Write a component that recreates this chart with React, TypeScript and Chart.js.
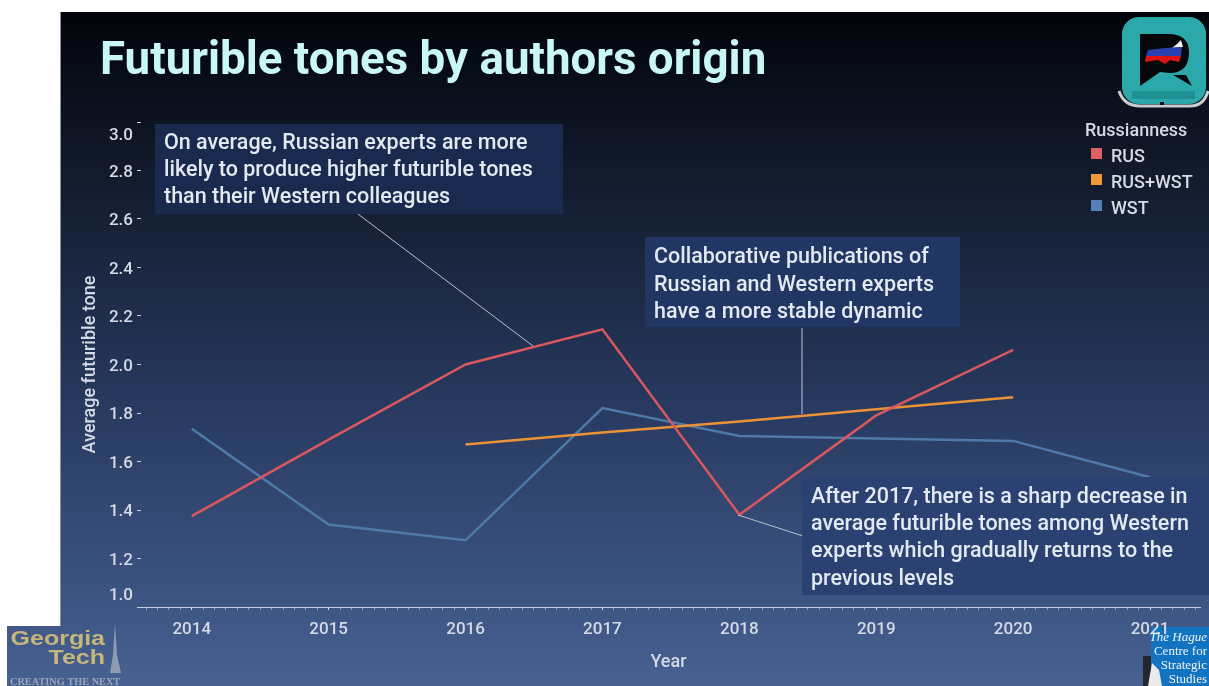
import React, { useEffect, useRef } from "react";
import { Chart, registerables } from "chart.js";

Chart.register(...registerables);

const years = [2014, 2015, 2016, 2017, 2018, 2019, 2020, 2021];
const rus = [1.375, 1.69, 2.0, 2.145, 1.38, 1.79, 2.06, null];
const rusWst = [null, null, 1.67, 1.72, 1.765, 1.815, 1.865, null];
const wst = [1.735, 1.34, 1.275, 1.82, 1.705, 1.695, 1.685, 1.535];

const seriesNames = ["RUS", "RUS+WST", "WST"];
const seriesColors = ["#d9575e", "#ec9236", "#4f79a8"];
const keyColors = ["#e05f66", "#f2983a", "#5480b5"];

const titleText = "Futurible tones by authors origin";
const legendTitle = "Russianness";
const noteOne = [
  "On average, Russian experts are more",
  "likely to produce higher futurible tones",
  "than their Western colleagues",
];
const noteTwo = [
  "Collaborative publications of",
  "Russian and Western experts",
  "have a more stable dynamic",
];
const noteThree = [
  "After 2017, there is a sharp decrease in",
  "average futurible tones among Western",
  "experts which gradually returns to the",
  "previous levels",
];

const FONT = "Roboto, 'Noto Sans', sans-serif";
const MONTH = 1 / 12;

function isWholeYear(v: number) {
  return Math.abs(v - Math.round(v)) < 1e-6;
}

function note(
  ctx: CanvasRenderingContext2D,
  box: [number, number, number, number],
  fill: string,
  lines: string[],
  textX: number,
  firstY: number,
  step: number
) {
  ctx.fillStyle = fill;
  ctx.fillRect(box[0], box[1], box[2], box[3]);
  ctx.fillStyle = "#e3e9f0";
  ctx.font = `500 21.5px ${FONT}`;
  ctx.textAlign = "left";
  ctx.textBaseline = "middle";
  lines.forEach((l, i) => ctx.fillText(l, textX, firstY + i * step));
}

function leader(ctx: CanvasRenderingContext2D, x1: number, y1: number, x2: number, y2: number) {
  ctx.strokeStyle = "#b9c3d2";
  ctx.lineWidth = 1;
  ctx.beginPath();
  ctx.moveTo(x1, y1);
  ctx.lineTo(x2, y2);
  ctx.stroke();
}

function drawAppIcon(ctx: CanvasRenderingContext2D) {
  // stand under the tile
  ctx.strokeStyle = "#c9cdd0";
  ctx.lineWidth = 3;
  ctx.beginPath();
  ctx.moveTo(1119, 91);
  ctx.quadraticCurveTo(1124, 106, 1140, 106);
  ctx.lineTo(1190, 106);
  ctx.quadraticCurveTo(1204, 106, 1208, 91);
  ctx.stroke();
  // tile
  ctx.fillStyle = "#2ba9aa";
  ctx.beginPath();
  ctx.roundRect(1122, 17, 84, 87, 17);
  ctx.fill();
  ctx.fillStyle = "#1f9092";
  ctx.fillRect(1132, 91, 63, 8);
  ctx.fillStyle = "#111";
  ctx.fillRect(1160, 102, 4, 3);
  // speech bubble letter
  ctx.fillStyle = "#06080c";
  ctx.beginPath();
  ctx.moveTo(1140, 34);
  ctx.lineTo(1168, 34);
  ctx.quadraticCurveTo(1190, 34, 1189, 54);
  ctx.quadraticCurveTo(1188, 73, 1170, 73);
  ctx.lineTo(1160, 72);
  ctx.lineTo(1140, 86);
  ctx.closePath();
  ctx.fill();
  ctx.beginPath();
  ctx.moveTo(1173, 75);
  ctx.lineTo(1186, 75);
  ctx.lineTo(1192, 86);
  ctx.closePath();
  ctx.fill();
  // flag-coloured map
  ctx.fillStyle = "#f2f2f4";
  ctx.beginPath();
  ctx.moveTo(1172, 48);
  ctx.lineTo(1177, 44);
  ctx.lineTo(1181, 40);
  ctx.lineTo(1183, 47);
  ctx.closePath();
  ctx.fill();
  ctx.fillStyle = "#2a3fb0";
  ctx.beginPath();
  ctx.moveTo(1148, 50);
  ctx.lineTo(1165, 48);
  ctx.lineTo(1182, 47);
  ctx.lineTo(1181, 56);
  ctx.lineTo(1146, 56);
  ctx.closePath();
  ctx.fill();
  ctx.fillStyle = "#e01414";
  ctx.beginPath();
  ctx.moveTo(1146, 56);
  ctx.lineTo(1181, 56);
  ctx.lineTo(1179, 62);
  ctx.lineTo(1170, 60);
  ctx.lineTo(1165, 64);
  ctx.lineTo(1158, 60);
  ctx.lineTo(1145, 62);
  ctx.closePath();
  ctx.fill();
}

function wideText(ctx: CanvasRenderingContext2D, text: string, rightX: number, y: number) {
  ctx.save();
  ctx.translate(rightX, y);
  ctx.scale(1.25, 1);
  ctx.fillText(text, 0, 0);
  ctx.restore();
}

function drawGeorgiaTech(ctx: CanvasRenderingContext2D) {
  ctx.fillStyle = "#c6b67a";
  ctx.textBaseline = "alphabetic";
  ctx.textAlign = "right";
  ctx.font = "700 20px 'Liberation Sans', sans-serif";
  wideText(ctx, "Georgia", 105, 645);
  wideText(ctx, "Tech", 105, 664);
  // tower
  ctx.fillStyle = "#8d9cb0";
  ctx.beginPath();
  ctx.moveTo(115, 623);
  ctx.lineTo(117, 655);
  ctx.lineTo(121, 673);
  ctx.lineTo(110, 673);
  ctx.lineTo(113, 655);
  ctx.closePath();
  ctx.fill();
  ctx.fillStyle = "#9aa6b5";
  ctx.textAlign = "left";
  ctx.font = "700 10.3px 'Liberation Serif', serif";
  ctx.fillText("CREATING THE NEXT", 10, 685);
}

function drawHague(ctx: CanvasRenderingContext2D) {
  // chess pieces
  ctx.fillStyle = "#23262d";
  ctx.fillRect(1143, 656, 8, 30);
  ctx.fillStyle = "#e9eaec";
  ctx.beginPath();
  ctx.moveTo(1152, 663);
  ctx.lineTo(1159, 670);
  ctx.lineTo(1162, 686);
  ctx.lineTo(1148, 686);
  ctx.closePath();
  ctx.fill();
  ctx.fillStyle = "#f0f4fa";
  ctx.textBaseline = "middle";
  ctx.textAlign = "right";
  ctx.font = "italic 13px 'Liberation Serif', serif";
  ctx.fillText("The Hague", 1207, 638);
  ctx.font = "13px 'Liberation Serif', serif";
  ctx.fillText("Centre for", 1207, 652);
  ctx.fillText("Strategic", 1207, 666);
  ctx.fillText("Studies", 1207, 680);
}

const backdrop = {
  id: "backdrop",
  beforeDraw(chart: any) {
    const { ctx, width, height } = chart;
    ctx.save();
    ctx.fillStyle = "#ffffff";
    ctx.fillRect(0, 0, width, height);
    const g = ctx.createLinearGradient(0, 12, 0, 686);
    g.addColorStop(0, "#02040a");
    g.addColorStop(0.27, "#141d30");
    g.addColorStop(0.58, "#27395f");
    g.addColorStop(1, "#476192");
    ctx.fillStyle = g;
    ctx.fillRect(60, 12, width - 60, height - 12);
    ctx.fillRect(7, 626, 60, 60);
    ctx.fillStyle = "#8b919a";
    ctx.fillRect(60, 12, 1, 614);
    // blue corner panel sits behind the last year label
    ctx.fillStyle = "#1273c0";
    ctx.fillRect(1151, 627, 58, 59);
    ctx.restore();
  },
  afterDatasetsDraw(chart: any) {
    const { ctx } = chart;
    ctx.save();
    leader(ctx, 358, 214, 533, 346);
    leader(ctx, 802, 328, 802, 414);
    leader(ctx, 738, 515, 803, 536);
    note(ctx, [155, 124, 408, 90], "#1a2a4e", noteOne, 164, 144, 27);
    note(ctx, [645, 237, 315, 90], "#213662", noteTwo, 654, 258, 27.5);
    note(ctx, [802, 477, 407, 118], "#2a4172", noteThree, 811, 497.5, 27.3);
    ctx.restore();
  },
  afterDraw(chart: any) {
    const { ctx } = chart;
    ctx.save();
    // heading
    ctx.fillStyle = "#c9f7f6";
    ctx.font = `700 45.7px ${FONT}`;
    ctx.textAlign = "left";
    ctx.textBaseline = "alphabetic";
    ctx.fillText(titleText, 100, 74);
    // colour key
    ctx.textBaseline = "middle";
    ctx.fillStyle = "#d5dbe5";
    ctx.font = `500 18px ${FONT}`;
    ctx.fillText(legendTitle, 1085, 131);
    chart.data.datasets.forEach((d: any, i: number) => {
      const y = 155 + i * 26;
      ctx.fillStyle = keyColors[i];
      ctx.fillRect(1091, y - 7, 11, 11);
      ctx.fillStyle = "#d5dbe5";
      ctx.fillText(d.label, 1111, y + 2);
    });
    drawAppIcon(ctx);
    drawGeorgiaTech(ctx);
    drawHague(ctx);
    ctx.restore();
  },
};

function points(values: (number | null)[]) {
  return years.map((x, i) => ({ x, y: values[i] }));
}

// The end labels sit inside the axis range; a blank companion line moves a label
// away from its tick by half of the line height.
function labelLineHeight(value: number) {
  if (Math.abs(value - 3) < 1e-6) return "28px";
  if (Math.abs(value - 1) < 1e-6) return "22px";
  return "4px";
}

export default function App() {
  const ref = useRef<HTMLCanvasElement>(null);

  useEffect(() => {
    const chart = new Chart(ref.current!, {
      type: "line",
      data: {
        datasets: [rus, rusWst, wst].map((values, i) => ({
          label: seriesNames[i],
          data: points(values) as any,
          borderColor: seriesColors[i],
          backgroundColor: seriesColors[i],
          borderWidth: 2.5,
          pointRadius: 0,
          tension: 0,
        })),
      },
      plugins: [backdrop],
      options: {
        animation: false,
        responsive: false,
        layout: { padding: { left: 80, right: 9, top: 122, bottom: 13 } },
        plugins: { legend: { display: false }, tooltip: { enabled: false } },
        scales: {
          x: {
            type: "linear",
            min: 2013.6,
            max: 2021.365,
            afterBuildTicks(scale: any) {
              const ticks = [];
              for (let k = -4; k <= 88; k++) ticks.push({ value: 2014 + k * MONTH });
              scale.ticks = ticks;
            },
            afterFit(scale: any) {
              scale.height = 66;
            },
            border: { color: "#c6d0e0", width: 1 },
            grid: {
              drawOnChartArea: false,
              tickLength: 3,
              tickColor: (c: any) =>
                isWholeYear(c.tick?.value ?? 0) ? "#d5dce8" : "rgba(213,220,232,0.55)",
            },
            ticks: {
              autoSkip: false,
              maxRotation: 0,
              padding: 10,
              color: "#d5dbe5",
              font: { family: FONT, size: 17, weight: "500" },
              callback: (v: any) => (isWholeYear(Number(v)) ? String(Math.round(Number(v))) : ""),
            },
            title: {
              display: true,
              text: "Year",
              color: "#d5dbe5",
              font: { family: FONT, size: 18, weight: "500" },
              padding: { top: 4, bottom: 0 },
            },
          },
          y: {
            min: 1,
            max: 3,
            afterFit(scale: any) {
              scale.width = 57;
            },
            border: { display: false },
            grid: {
              drawOnChartArea: false,
              tickLength: -4,
              tickColor: "#c6d0e0",
            },
            ticks: {
              stepSize: 0.2,
              autoSkip: false,
              padding: 8,
              color: "#d5dbe5",
              font: (c: any) => ({
                family: FONT,
                size: 17,
                weight: "500",
                lineHeight: labelLineHeight(c.tick?.value ?? 0),
              }),
              callback: (v: any) => {
                const text = Number(v).toFixed(1);
                return Math.abs(Number(v) - 1) < 1e-6 ? [text, ""] : ["", text];
              },
            },
            title: {
              display: true,
              text: "Average futurible tone",
              color: "#d5dbe5",
              font: { family: FONT, size: 18, weight: "500" },
              padding: { top: 0, bottom: 0 },
            },
          },
        },
      } as any,
    });
    return () => chart.destroy();
  }, []);

  return (
    <canvas
      ref={ref}
      width={1209}
      height={686}
      style={{ position: "fixed", left: 0, top: 0, display: "block" }}
    />
  );
}
